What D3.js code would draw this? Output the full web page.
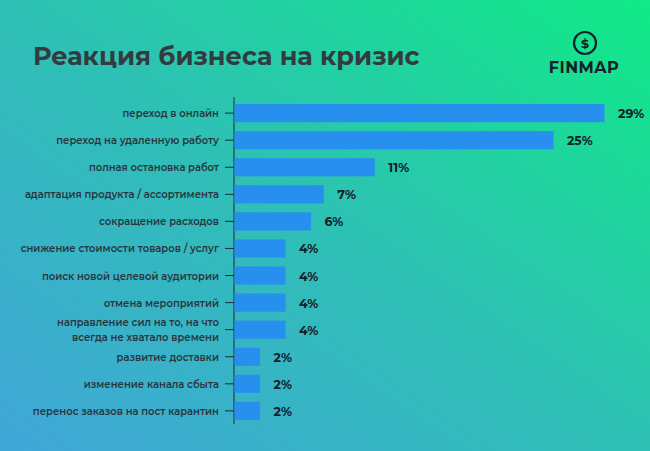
<!DOCTYPE html>
<html><head><meta charset="utf-8">
<script src="https://cdn.jsdelivr.net/npm/d3@7"></script>
<style>body{margin:0}svg{display:block}</style>
</head><body>
<script>
var categories = ["переход в онлайн","переход на удаленную работу","полная остановка работ","адаптация продукта / ассортимента","сокращение расходов","снижение стоимости товаров / услуг","поиск новой целевой аудитории","отмена мероприятий","направление сил на то, на что|всегда не хватало времени","развитие доставки","изменение канала сбыта","перенос заказов на пост карантин"];
var values = [29,25,11,7,6,4,4,4,4,2,2,2];

var W = 650, H = 451;
var svg = d3.select("body").append("svg").attr("width", W).attr("height", H);

//background gradient
var defs = svg.append("defs");
var g = defs.append("linearGradient").attr("id","bg")
	.attr("x1","0").attr("y1","1").attr("x2","1").attr("y2","0");
g.append("stop").attr("offset","0").attr("stop-color","#41a6d9");
g.append("stop").attr("offset","0.5").attr("stop-color","#2ec0b5");
g.append("stop").attr("offset","1").attr("stop-color","#10ea86");
svg.append("rect").attr("width",W).attr("height",H).attr("fill","url(#bg)");

svg.append("text").attr("x",33).attr("y",65)
	.attr("font-family","Montserrat, 'Open Sans', sans-serif").attr("font-weight",700)
	.attr("font-size",25.5).attr("fill","#333a40").text("Реакция бизнеса на кризис");

//logo
var logo = svg.append("g").attr("transform","translate(585,43)");
logo.append("circle").attr("r",11).attr("fill","none").attr("stroke","#15202a").attr("stroke-width",2.2);
logo.append("text").attr("y",5).attr("text-anchor","middle").attr("font-family","DejaVu Sans").attr("font-weight",700)
	.attr("font-size",13).attr("fill","#15202a").text("$");
svg.append("text").attr("x",584).attr("y",73).attr("text-anchor","middle")
	.attr("font-family","Montserrat, 'Open Sans', sans-serif").attr("font-weight",700)
	.attr("font-size",16).attr("fill","#15202a").attr("letter-spacing",0.5).text("FINMAP");

var x0 = 234;
var x = d3.scaleLinear().domain([0,29]).range([x0,604]);
var y = d3.scaleBand().domain(d3.range(categories.length)).range([100,424]).paddingInner(0.33).paddingOuter(0.15);

svg.append("line").attr("x1",x0).attr("x2",x0).attr("y1",97).attr("y2",424)
	.attr("stroke","#1d2a35").attr("stroke-width",1);

svg.selectAll(".bar").data(values).enter().append("rect")
	.attr("x",x0+0.5).attr("y",function(d,i){return y(i);})
	.attr("width",function(d){return x(d)-x0;}).attr("height",y.bandwidth())
	.attr("fill","#2790ee");

svg.selectAll(".tick").data(values).enter().append("line")
	.attr("x1",x0-9).attr("x2",x0)
	.attr("y1",function(d,i){return y(i)+y.bandwidth()/2;})
	.attr("y2",function(d,i){return y(i)+y.bandwidth()/2;})
	.attr("stroke","#1d2a35");

svg.selectAll(".val").data(values).enter().append("text")
	.attr("x",function(d){return x(d)+14;})
	.attr("y",function(d,i){return y(i)+y.bandwidth()/2+5;})
	.attr("font-family","Montserrat, 'Open Sans', sans-serif").attr("font-weight",700)
	.attr("font-size",12.5).attr("fill","#15202a").text(function(d){return d+"%";});

var lab = svg.selectAll(".lab").data(categories).enter().append("text")
	.attr("text-anchor","end")
	.attr("font-family","Montserrat, 'Open Sans', sans-serif").attr("font-weight",600)
	.attr("font-size",10).attr("fill","#2a3640");
lab.each(function(d,i){
	var parts = d.split("|"), cy = y(i)+y.bandwidth()/2;
	var t = d3.select(this);
	parts.forEach(function(p,j){
		t.append("tspan").attr("x",219)
			.attr("y",cy+4+(j-(parts.length-1)/2)*15).text(p);
	});
});
</script>
</body></html>
